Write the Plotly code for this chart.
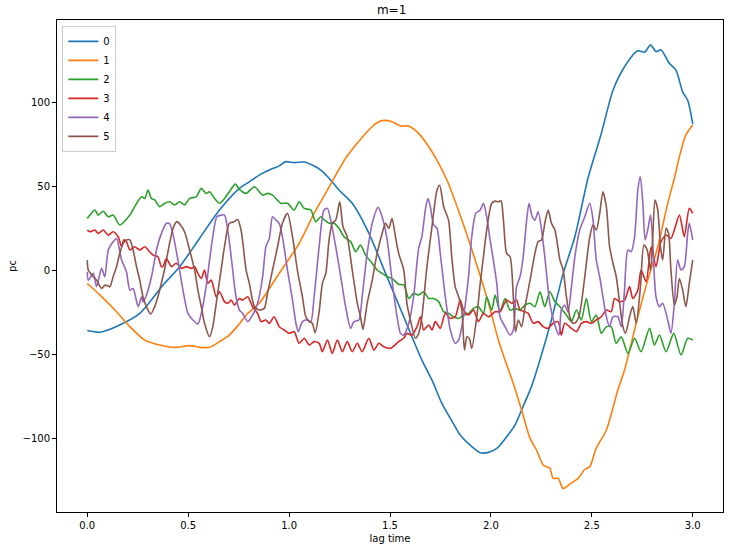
import plotly.graph_objects as go

# ---- data (lag time, pc value) ----
S0_T = [0, 0.063, 0.161, 0.26, 0.375, 0.458, 0.556, 0.655, 0.754, 0.803,
        0.852, 0.902, 0.951, 0.984, 1.025, 1.075, 1.115, 1.157, 1.206, 1.247,
        1.313, 1.395, 1.478, 1.568, 1.658, 1.708, 1.757, 1.799, 1.848, 1.897,
        1.947, 1.988, 2.029, 2.078, 2.119, 2.152, 2.201, 2.243, 2.299, 2.333,
        2.358, 2.416, 2.481, 2.547, 2.605, 2.662, 2.728, 2.761, 2.791, 2.818,
        2.843, 2.884, 2.917, 2.95, 2.975, 3.0]
S0_V = [-36, -37, -32.7, -25.8, -9, 2, 18.8, 35.7, 48.6, 52.5,
        56.5, 59.5, 62, 64.5, 63.9, 64.3, 62.5, 59.5, 53.6, 47.6,
        39.7, 22, -2, -27.8, -53.6, -65.5, -79.4, -88.3, -98.2, -104.2,
        -108.7, -108.5, -106.2, -99.2, -92.3, -83.3, -69.4, -53.6, -30, -13.9,
        -2, 19.8, 54.6, 81.3, 107, 121, 130.5, 129.6, 134, 130,
        131, 123, 119, 106, 101, 87]

S1_T = [0, 0.063, 0.137, 0.211, 0.285, 0.359, 0.433, 0.507, 0.556, 0.606,
        0.655, 0.704, 0.754, 0.793, 0.852, 0.902, 0.951, 1.05, 1.124, 1.19,
        1.231, 1.28, 1.33, 1.379, 1.42, 1.461, 1.51, 1.552, 1.593, 1.642,
        1.692, 1.741, 1.782, 1.856, 1.938, 1.988, 2.037, 2.07, 2.111, 2.152,
        2.194, 2.226, 2.259, 2.292, 2.308, 2.333, 2.358, 2.391, 2.432, 2.465,
        2.49, 2.522, 2.572, 2.629, 2.662, 2.728, 2.777, 2.827, 2.876, 2.909,
        2.934, 2.966, 3.0]
S1_V = [-8, -14.9, -23.8, -33.7, -41.7, -44.6, -46, -45, -46, -46,
        -42.6, -38.7, -32, -26, -19.8, -11, -2, 15.9, 33.7, 47.6,
        56.5, 66.5, 74.4, 81.3, 86.3, 88.9, 88.3, 85.7, 85.7, 81.3,
        73.4, 63.5, 53.6, 29.8, 0, -19.8, -41.6, -53.6, -67.5, -83.3,
        -100.2, -107.1, -116, -118, -124, -124, -130, -127.4, -124, -118.7,
        -117, -106, -95.2, -71.4, -59.5, -27.8, -6, 13.9, 39.7, 54.6,
        67.5, 80.4, 86.3]

S2_T = [0, 0.013, 0.038, 0.054, 0.079, 0.104, 0.128, 0.161, 0.211, 0.235,
        0.269, 0.285, 0.301, 0.318, 0.334, 0.359, 0.384, 0.408, 0.433, 0.458,
        0.482, 0.507, 0.54, 0.565, 0.589, 0.606, 0.631, 0.655, 0.68, 0.704,
        0.734, 0.754, 0.787, 0.828, 0.869, 0.893, 0.918, 0.959, 0.992, 1.025,
        1.05, 1.075, 1.108, 1.132, 1.157, 1.173, 1.198, 1.223, 1.247, 1.272,
        1.305, 1.33, 1.354, 1.379, 1.412, 1.436, 1.461, 1.486, 1.51, 1.543,
        1.568, 1.593, 1.617, 1.642, 1.667, 1.692, 1.716, 1.741, 1.766, 1.79,
        1.815, 1.84, 1.864, 1.889, 1.914, 1.938, 1.963, 1.979, 2.004, 2.021,
        2.045, 2.07, 2.095, 2.119, 2.144, 2.169, 2.194, 2.218, 2.243, 2.267,
        2.292, 2.317, 2.342, 2.374, 2.399, 2.424, 2.448, 2.473, 2.498, 2.522,
        2.547, 2.572, 2.596, 2.621, 2.646, 2.679, 2.712, 2.744, 2.786, 2.81,
        2.835, 2.868, 2.906, 2.942, 2.975, 3.0]
S2_V = [30.7, 32.7, 35.7, 32.7, 35, 31.7, 32.7, 26.8, 32.7, 37.7,
        43.6, 42.6, 47.6, 42.6, 41.7, 37.7, 39.7, 40.6, 38.7, 40.6,
        38.7, 42.6, 43.6, 48.6, 45.6, 46.6, 42.6, 39.7, 42.6, 46.6,
        51.1, 48, 45.6, 49.6, 44.6, 45.6, 44.6, 39.7, 39.7, 35.7,
        40.6, 36.7, 35.7, 28.8, 31.7, 30, 27.8, 27.8, 24.8, 19.8,
        16.9, 10.9, 14.9, 8.9, 4, 0, -2, -4, -5, -8.5,
        -8.9, -16.9, -13.9, -14.9, -12.9, -16.9, -16.9, -18.8, -24.8, -25.8,
        -27.8, -28.8, -26.8, -25.8, -22.8, -21.8, -25.8, -15.9, -23.8, -14.9,
        -24.8, -16.9, -23.8, -22.8, -23.8, -20.8, -19.8, -21.8, -12.9, -21.8,
        -12.9, -18.8, -21.8, -26.8, -30.7, -23.8, -29.7, -16.9, -30.7, -26.8,
        -37.7, -33.7, -33.7, -43.6, -39.7, -49.6, -40.6, -48.6, -34.7, -44.6,
        -38.7, -48.6, -37.7, -50.6, -40.6, -41.6]

S3_T = [0, 0.013, 0.038, 0.054, 0.079, 0.104, 0.128, 0.153, 0.17, 0.181,
        0.194, 0.211, 0.235, 0.26, 0.285, 0.309, 0.326, 0.35, 0.367, 0.375,
        0.392, 0.417, 0.441, 0.466, 0.491, 0.515, 0.532, 0.548, 0.565, 0.581,
        0.597, 0.614, 0.639, 0.655, 0.68, 0.696, 0.713, 0.729, 0.754, 0.77,
        0.795, 0.819, 0.844, 0.861, 0.885, 0.902, 0.926, 0.951, 0.976, 1.0,
        1.025, 1.05, 1.075, 1.1, 1.124, 1.149, 1.165, 1.19, 1.214, 1.239,
        1.264, 1.288, 1.313, 1.338, 1.362, 1.395, 1.42, 1.445, 1.469, 1.502,
        1.543, 1.568, 1.584, 1.609, 1.634, 1.651, 1.667, 1.692, 1.708, 1.725,
        1.749, 1.774, 1.799, 1.823, 1.848, 1.864, 1.889, 1.914, 1.938, 1.963,
        1.988, 2.021, 2.045, 2.078, 2.103, 2.127, 2.144, 2.169, 2.185, 2.21,
        2.234, 2.259, 2.284, 2.308, 2.333, 2.349, 2.366, 2.399, 2.424, 2.448,
        2.473, 2.498, 2.522, 2.547, 2.572, 2.596, 2.613, 2.638, 2.662, 2.687,
        2.703, 2.728, 2.744, 2.769, 2.794, 2.818, 2.843, 2.868, 2.892, 2.934,
        2.958, 2.983, 3.0]
S3_V = [23.8, 22.8, 23.8, 21.8, 23.8, 20.8, 22.8, 19.8, 13.9, 17.9,
        16.9, 11.9, 13.9, 11.9, 13.9, 10.9, 8.9, 7.9, 2, 2,
        6.9, 2, 4, 1, 2, 1, 2, -2, -5, 0,
        -7.9, -6, -15.9, -12.9, -18.8, -19.8, -17.9, -20.8, -16.9, -17.9,
        -15.9, -21.8, -25.8, -30.7, -29.7, -31.7, -27.8, -33.7, -35.7, -37.7,
        -36.7, -43.6, -40.6, -44.6, -42.6, -43.6, -48.6, -41.6, -49.6, -41.6,
        -48.6, -42.6, -48.6, -43.6, -48.6, -40.6, -47.6, -43.6, -45.6, -46.6,
        -42.6, -40.6, -37.7, -38.7, -33.7, -27.8, -35.7, -32.7, -35.7, -30.7,
        -34.7, -25.8, -28.8, -27.8, -17.9, -23.8, -26.8, -23.8, -30.7, -25.8,
        -27.8, -24.8, -24.8, -17.9, -19.8, -17.9, -23.8, -24.8, -25.8, -31.7,
        -30.7, -33.7, -34.7, -31.7, -30.7, -38.7, -31.7, -34.7, -36.7, -31.7,
        -30.7, -31.7, -29.7, -27.8, -23.8, -24.8, -16.9, -18.8, -17.9, -9.9,
        -16.9, -12, 0, -6.9, 13.9, 2, 16.9, 20.8, 18.8, 32.7,
        19.8, 36.7, 33.7]

S4_T = [0, 0.005, 0.03, 0.046, 0.071, 0.087, 0.104, 0.128, 0.145, 0.17,
        0.194, 0.211, 0.227, 0.252, 0.269, 0.276, 0.293, 0.318, 0.343, 0.359,
        0.392, 0.408, 0.424, 0.449, 0.474, 0.499, 0.523, 0.548, 0.565, 0.589,
        0.606, 0.622, 0.642, 0.663, 0.68, 0.696, 0.713, 0.737, 0.754, 0.77,
        0.795, 0.819, 0.844, 0.869, 0.885, 0.902, 0.918, 0.935, 0.951, 0.967,
        0.992, 1.017, 1.034, 1.046, 1.066, 1.091, 1.108, 1.124, 1.149, 1.173,
        1.19, 1.206, 1.231, 1.256, 1.28, 1.305, 1.321, 1.346, 1.362, 1.387,
        1.412, 1.441, 1.461, 1.486, 1.51, 1.535, 1.552, 1.568, 1.593, 1.617,
        1.642, 1.658, 1.675, 1.688, 1.7, 1.716, 1.733, 1.749, 1.774, 1.799,
        1.823, 1.84, 1.864, 1.889, 1.905, 1.925, 1.947, 1.963, 1.979, 1.996,
        2.012, 2.029, 2.045, 2.07, 2.095, 2.111, 2.127, 2.144, 2.16, 2.177,
        2.189, 2.205, 2.218, 2.234, 2.251, 2.267, 2.292, 2.317, 2.337, 2.349,
        2.366, 2.382, 2.399, 2.416, 2.44, 2.465, 2.49, 2.506, 2.522, 2.539,
        2.555, 2.572, 2.588, 2.605, 2.629, 2.646, 2.662, 2.679, 2.695, 2.712,
        2.728, 2.74, 2.753, 2.764, 2.777, 2.791, 2.802, 2.818, 2.835, 2.851,
        2.876, 2.892, 2.909, 2.925, 2.942, 2.958, 2.975, 2.983, 3.0]
S4_V = [-1, -6, -2, -9.9, 1, -4, 11.9, 16.9, 18.8, 6,
        -1, -11.9, -11, -21.8, -16, -19, -15, -4, 11.9, 19,
        27.8, 27.5, 21.8, 6, -11.9, -25.8, -29.7, -32.1, -25.8, -9.9,
        6, 19.8, 31.7, 32.7, 32.7, 23.8, 7.9, -15.9, -23.8, -25.8,
        -30.7, -26.8, -19.8, -4, 13.9, 18.8, 31.7, 29.7, 27.8, 19.8,
        0, -17.9, -31.7, -36.7, -30.7, -29.7, -30.7, -15.9, 14, 35.7,
        36.7, 29.7, 13.9, -4, -21.8, -34.7, -30.7, -29.7, -15.9, 9.9,
        27.8, 37.3, 31.7, 17.9, -6, -27.8, -37.7, -38.7, -31.7, -15.9,
        12.9, 19.8, 35.7, 42.6, 37.7, 26.8, 24.8, 9.9, -15.9, -35.7,
        -43.6, -41.6, -27.8, -4, 19.8, 33.7, 35.7, 39.7, 31.7, 17.9,
        6, -7.9, -27.8, -33.7, -38.7, -35.7, -9.9, -4, 7.9, 29.7,
        39.7, 31.7, 29.7, 34.7, 23.8, 7.9, -19.8, -32.7, -38.7, -23.8,
        -20.8, -25, -9.9, 7.9, 23.8, 31.7, 39.7, 29.7, 6, -4,
        -15.9, -27.8, -33.7, -27.8, -27.8, -33.7, -11.9, 11.9, 10.9, 19.8,
        47.6, 55.5, 39.7, 17.9, 23.8, 32.7, 15.9, -15.9, -21.8, -19.8,
        -29.7, -37.7, -19.8, 6, 0, 2, 21.8, 27.8, 17.9]

S5_T = [0, 0.005, 0.03, 0.046, 0.071, 0.087, 0.104, 0.112, 0.128, 0.145,
        0.161, 0.178, 0.194, 0.211, 0.227, 0.244, 0.26, 0.276, 0.293, 0.314,
        0.334, 0.35, 0.367, 0.384, 0.408, 0.428, 0.444, 0.461, 0.482, 0.507,
        0.532, 0.548, 0.565, 0.581, 0.606, 0.622, 0.639, 0.663, 0.68, 0.704,
        0.729, 0.745, 0.762, 0.787, 0.803, 0.828, 0.852, 0.877, 0.893, 0.918,
        0.943, 0.967, 0.992, 1.017, 1.041, 1.066, 1.083, 1.1, 1.115, 1.129,
        1.149, 1.165, 1.182, 1.198, 1.214, 1.231, 1.251, 1.267, 1.288, 1.313,
        1.338, 1.354, 1.366, 1.387, 1.412, 1.436, 1.461, 1.478, 1.494, 1.51,
        1.527, 1.543, 1.568, 1.584, 1.601, 1.626, 1.642, 1.658, 1.683, 1.708,
        1.733, 1.746, 1.766, 1.79, 1.806, 1.823, 1.84, 1.856, 1.869, 1.881,
        1.894, 1.905, 1.93, 1.947, 1.963, 1.979, 2.004, 2.021, 2.037, 2.05,
        2.062, 2.078, 2.095, 2.111, 2.122, 2.136, 2.152, 2.169, 2.194, 2.218,
        2.234, 2.251, 2.267, 2.284, 2.3, 2.317, 2.342, 2.358, 2.374, 2.391,
        2.407, 2.424, 2.44, 2.457, 2.473, 2.49, 2.506, 2.522, 2.539, 2.555,
        2.572, 2.588, 2.605, 2.621, 2.638, 2.654, 2.667, 2.687, 2.703, 2.72,
        2.741, 2.758, 2.774, 2.791, 2.802, 2.813, 2.827, 2.84, 2.851, 2.868,
        2.88, 2.892, 2.909, 2.922, 2.934, 2.95, 2.966, 2.983, 3.0]
S5_V = [6, 0, -4, -6, -10.9, -9, -9.5, -10, -4, 2,
        9.9, 15.9, 17.9, 17.9, 11.9, 2, -6, -15.9, -21.8, -26.2,
        -21.8, -15.9, -7.9, 1, 15.9, 25.8, 28.8, 27, 22.8, 11.9,
        0, -11.9, -21.8, -31.7, -39.7, -33.7, -19.8, 0, 13.9, 27.8,
        28.8, 30.1, 23.8, 0, -7.9, -21.8, -23.8, -22.8, -13.9, 0,
        13.9, 27.8, 33.7, 19.8, 0, -15.9, -27.8, -30.7, -31.7, -37.3,
        -24.8, -7.9, -2, 17.9, 27.8, 29.7, 40.6, 25.8, 19.8, 0,
        -19.8, -27.8, -35.3, -19.8, -6, 9.9, 21.8, 27.8, 24.8, 30.7,
        19.8, 9.9, 0, -19.8, -29.7, -40.6, -37.7, -27.8, 2, 25.8,
        47.6, 50.5, 37.7, 29.7, 7.9, -9.9, -15.9, -23.8, -47.6, -39.7,
        -41, -46.6, -27.8, -7.9, 7.9, 23.8, 39.7, 41, 40.6, 41.2,
        29.7, 9.9, 7.9, -15.9, -36.7, -29.7, -33.7, -21.8, -6, 9.9,
        16.9, 17.9, 27.8, 35.7, 27.8, 23.8, 6, 0, -15.9, -27.8,
        -31.7, -30.7, -25.8, -11.9, 4, 19.8, 26.8, 23.8, 33.7, 46.6,
        37.7, 13.9, 4, -4, -19.8, -33.7, -37.7, -27.8, -21.8, -31.7,
        -9.9, 14.9, 12, 0, 19.8, 41.6, 35.7, 13.9, 6, 24.8,
        21.8, 0, -20.8, -15.9, -5, -11.9, -21.8, -7.9, 6]

SERIES_NAMES = ["0", "1", "2", "3", "4", "5"]
COLORS = ["#1f77b4", "#ff7f0e", "#2ca02c", "#d62728", "#9467bd", "#8c564b"]
X_TICKS = [0.0, 0.5, 1.0, 1.5, 2.0, 2.5, 3.0]
X_TICK_LABELS = ["0.0", "0.5", "1.0", "1.5", "2.0", "2.5", "3.0"]
Y_TICKS = [-100, -50, 0, 50, 100]
Y_TICK_LABELS = ["\u2212100", "\u221250", "0", "50", "100"]

series = [(S0_T, S0_V), (S1_T, S1_V), (S2_T, S2_V),
          (S3_T, S3_V), (S4_T, S4_V), (S5_T, S5_V)]

FONT = "DejaVu Sans"

fig = go.Figure()
for (t, v), name, color in zip(series, SERIES_NAMES, COLORS):
    fig.add_trace(go.Scatter(
        x=t, y=v, mode="lines", name=name,
        line=dict(color=color, width=1.6, shape="spline", smoothing=0.7),
    ))

axis_common = dict(
    showgrid=False, zeroline=False, showline=True, linecolor="black",
    linewidth=1, mirror=True, ticks="outside", ticklen=4, tickwidth=1,
    tickcolor="black", tickfont=dict(family=FONT, size=10, color="black"),
    automargin=False,
)

fig.update_layout(
    width=732, height=550,
    paper_bgcolor="white", plot_bgcolor="white",
    margin=dict(l=57, r=9, t=20, b=38),
    font=dict(family=FONT, size=10, color="black"),
    title=dict(text="m=1", x=0.535, xanchor="center", y=0.982, yanchor="middle",
               font=dict(family=FONT, size=12, color="black")),
    xaxis=dict(range=[-0.15, 3.15], tickvals=X_TICKS, ticktext=X_TICK_LABELS,
               title=dict(text="lag time", standoff=4,
                          font=dict(family=FONT, size=10)),
               **axis_common),
    yaxis=dict(range=[-144, 148.8], tickvals=Y_TICKS, ticktext=Y_TICK_LABELS,
               title=dict(text="pc", standoff=4,
                          font=dict(family=FONT, size=10)),
               **axis_common),
    legend=dict(x=0.008, y=0.988, xanchor="left", yanchor="top",
                bgcolor="rgba(255,255,255,0.8)", bordercolor="#cccccc",
                borderwidth=1, font=dict(family=FONT, size=10),
                tracegroupgap=0, itemwidth=30),
    showlegend=True,
)

fig.write_html(
    "out.html",
    config={"displayModeBar": False},
    post_script="document.body.style.margin='0';document.body.style.overflow='hidden';",
)
